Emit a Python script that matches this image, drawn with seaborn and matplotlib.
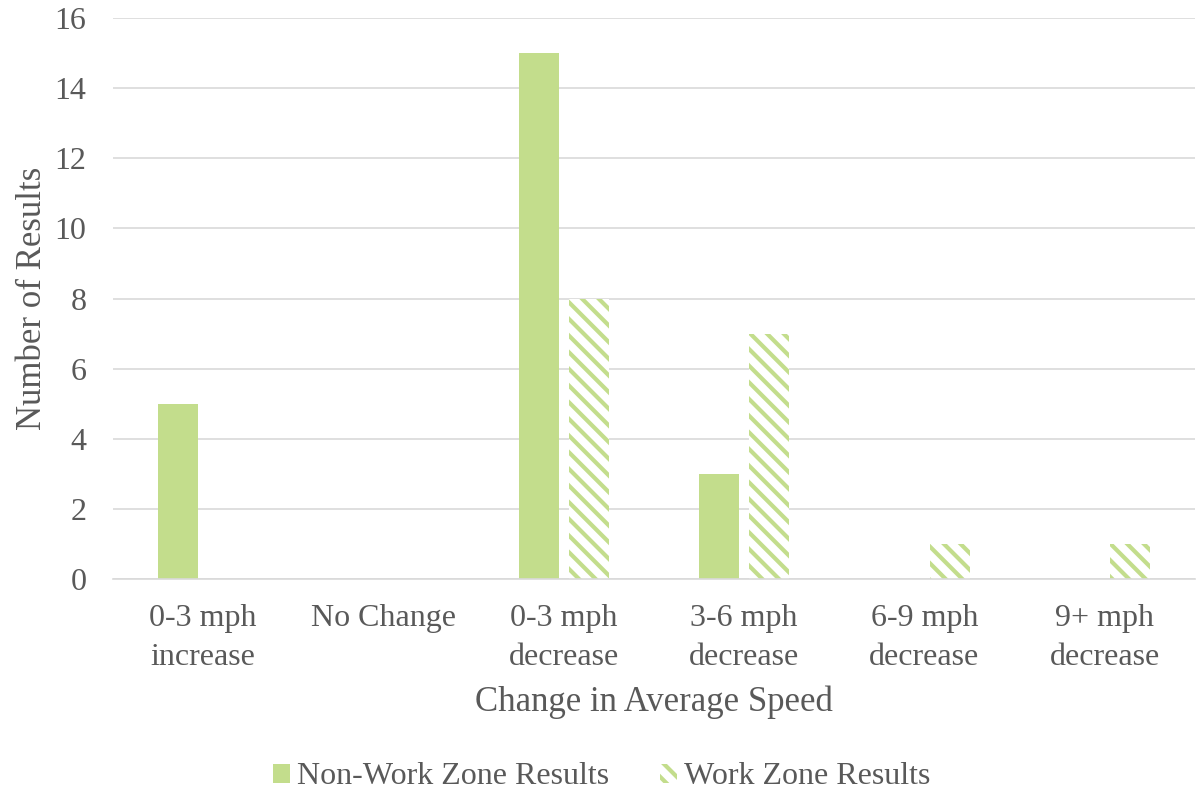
import matplotlib
matplotlib.use("Agg")
import matplotlib.pyplot as plt
import matplotlib.patches as mpatches
import seaborn as sns
import pandas as pd

categories = ["0-3 mph\nincrease", "No Change", "0-3 mph\ndecrease", "3-6 mph\ndecrease",
              "6-9 mph\ndecrease", "9+ mph\ndecrease"]
non_work = [5, 0, 15, 3, 0, 0]
work = [0, 0, 8, 7, 1, 1]
series = ["Non-Work Zone Results", "Work Zone Results"]
yticks = [0, 2, 4, 6, 8, 10, 12, 14, 16]

GREEN = "#C3DD8C"
TEXT = "#595959"

sns.set_theme(style="white")
plt.rcParams["font.family"] = ["Liberation Serif", "DejaVu Serif"]
plt.rcParams["hatch.linewidth"] = 3.0

df = pd.DataFrame({
    "cat": categories * 2,
    "val": non_work + work,
    "series": [series[0]] * len(categories) + [series[1]] * len(categories),
})

fig = plt.figure(figsize=(12.03, 7.91), dpi=100)
ax = fig.add_axes([113 / 1203, 1 - 579 / 791, (1195 - 113) / 1203, (579 - 18) / 791])

sns.barplot(data=df, x="cat", y="val", hue="series", order=categories, hue_order=series,
            palette=[GREEN, GREEN], width=0.556, gap=0.2, ax=ax, legend=False,
            saturation=1, errorbar=None)

for p in ax.containers[0]:
    p.set_facecolor(GREEN)
    p.set_edgecolor(GREEN)
    p.set_linewidth(0)
for p in ax.containers[1]:
    p.set_facecolor("white")
    p.set_edgecolor(GREEN)
    p.set_hatch("\\\\")
    p.set_linewidth(0)

ax.set_ylim(0, 16)
ax.set_yticks(yticks)
ax.set_xlim(-0.5, len(categories) - 0.5)
ax.yaxis.grid(True, color="#D9D9D9", linewidth=1.2)
ax.set_axisbelow(True)
for s in ["top", "right", "left"]:
    ax.spines[s].set_visible(False)
ax.spines["bottom"].set_color("#D9D9D9")
ax.spines["bottom"].set_linewidth(1.2)

ax.tick_params(axis="both", length=0, labelsize=23, labelcolor=TEXT)
ax.tick_params(axis="y", pad=19)
ax.tick_params(axis="x", pad=18)
for lbl in ax.get_xticklabels():
    lbl.set_linespacing(1.45)

ax.set_xlabel("Change in Average Speed", fontsize=25, color=TEXT, labelpad=10)
ax.set_ylabel("Number of Results", fontsize=25, color=TEXT, labelpad=4)

h1 = mpatches.Patch(facecolor=GREEN, edgecolor=GREEN, linewidth=0)
h2 = mpatches.Patch(facecolor="white", edgecolor=GREEN, hatch="\\\\", linewidth=0)
leg = fig.legend([h1, h2], series, loc="center", bbox_to_anchor=(0.5, 1 - 777 / 791),
                 ncol=2, frameon=False, fontsize=23, handlelength=0.55, handleheight=0.55,
                 handletextpad=0.2, columnspacing=1.6)
for t in leg.get_texts():
    t.set_color(TEXT)

fig.savefig("out.png", dpi=100)
